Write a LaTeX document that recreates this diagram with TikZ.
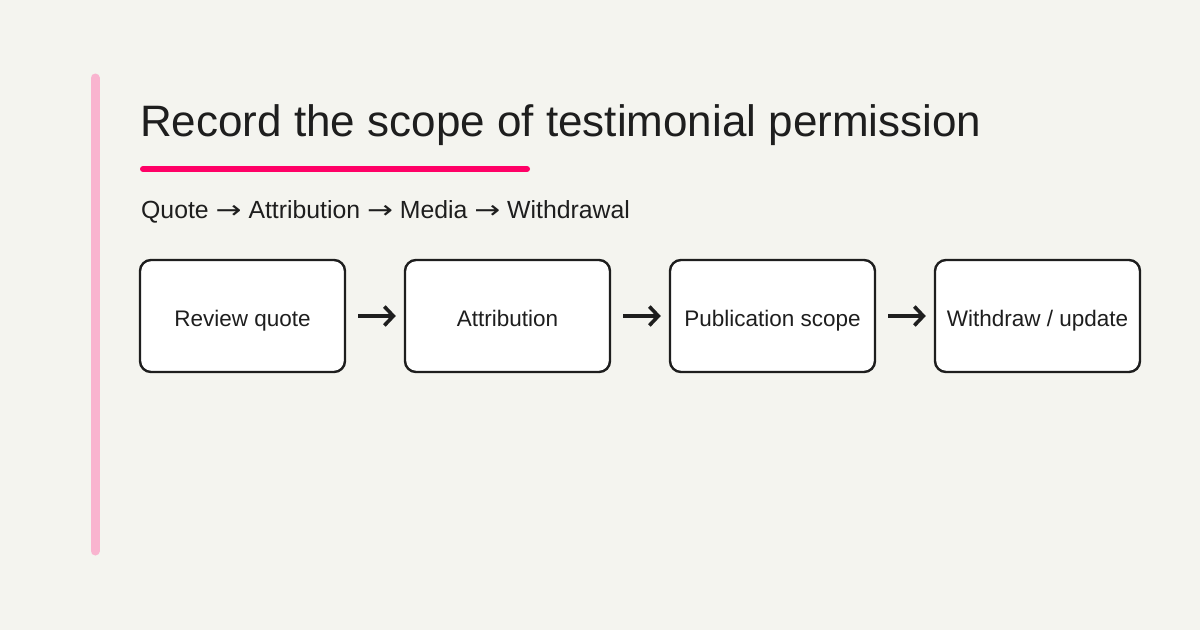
\documentclass[tikz,border=0pt]{standalone}
\usepackage{fontspec}
\setmainfont{Liberation Sans}
\newfontfamily\arrowfont{DejaVu Sans}
\usetikzlibrary{arrows.meta}
\definecolor{bg}{HTML}{F4F4EF}
\definecolor{ink}{HTML}{1E1E1E}
\definecolor{accent}{HTML}{FF0066}
\definecolor{sidebar}{HTML}{F9B4CF}
\newcommand{\rarr}{{\arrowfont\scalebox{1.25}[1]{→}}}
\tikzset{
  x=1pt,y=-1pt,
  stepbox/.style={draw=ink,line width=2.4pt,rounded corners=11pt,fill=white,minimum width=205pt,minimum height=112pt,inner sep=0pt,font=\fontsize{22.5}{26}\selectfont,text=ink,text height=20pt,text depth=0pt},
  flow/.style={draw=ink,line width=3.6pt,-{Straight Barb[length=9pt,width=19pt,line width=3.6pt]}},
}
\begin{document}
\begin{tikzpicture}
\fill[bg] (0,0) rectangle (1200,630);
\useasboundingbox (0,0) rectangle (1200,630);
\draw[sidebar,line width=9pt,line cap=round] (95,78) -- (95,551);
\node[anchor=base west,inner sep=0pt,text=ink,font=\fontsize{44}{52}\selectfont] (title) at (140,136) {Record the scope of testimonial permission};
\draw[accent,line width=6pt,line cap=round] (143,169) -- (527,169);
\node[anchor=base west,inner sep=0pt,text=ink,font=\fontsize{24.8}{30}\selectfont] (sub) at (141,218) {Quote \rarr\ Attribution \rarr\ Media \rarr\ Withdrawal};
\node[stepbox] (b1) at (242.5,316) {Review quote};
\node[stepbox] (b2) at (507.5,316) {Attribution};
\node[stepbox] (b3) at (772.5,316) {Publication scope};
\node[stepbox] (b4) at (1037.5,316) {Withdraw / update};
\draw[flow] ([xshift=12pt]b1.east) -- ([xshift=-8pt]b2.west);
\draw[flow] ([xshift=12pt]b2.east) -- ([xshift=-8pt]b3.west);
\draw[flow] ([xshift=12pt]b3.east) -- ([xshift=-8pt]b4.west);
\end{tikzpicture}
\end{document}
